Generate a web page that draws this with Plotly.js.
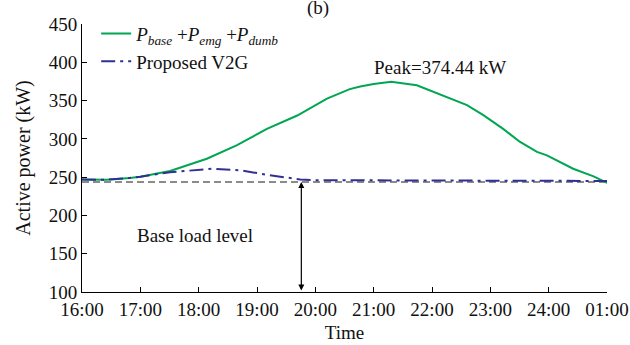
<!DOCTYPE html>
<html>
<head>
<meta charset="utf-8">
<script src="https://cdn.plot.ly/plotly-3.0.1.min.js"></script>
<style>html,body{margin:0;padding:0;background:#fff;}#chart{width:630px;height:345px;}</style>
</head>
<body>
<div id="chart"></div>
<script>
// Time in hours (25 = 01:00 next day)
const hoursUncontrolled = [16, 16.42, 16.82, 17.0, 17.51, 18.14, 18.65, 19.17, 19.69, 20.2, 20.59, 20.77, 21.0, 21.3, 21.74, 22.25, 22.6, 22.88, 23.22, 23.51, 23.8, 23.97, 24.14, 24.42, 24.77, 25];
const powerUncontrolled = [247, 246.5, 249, 250.5, 258, 274, 291.5, 313, 330.5, 352.5, 365, 368.5, 371.5, 374.44, 370, 354, 344, 331, 313, 296, 283, 278.5, 272, 261, 251, 242.5];
const hoursV2G = [16, 16.42, 16.82, 17.0, 17.51, 18.0, 18.25, 18.71, 19.22, 19.74, 20.08, 21, 22, 23, 24, 25];
const powerV2G = [247, 246.5, 249, 250.5, 256.5, 260, 261, 259, 252.5, 247, 245.8, 245.8, 245.8, 245.8, 245.8, 245];
const baseHours = [16, 25];
const baseLevel = [243.5, 243.5];
const tickHours = [16, 17, 18, 19, 20, 21, 22, 23, 24, 25];
const tickLabels = ['16:00', '17:00', '18:00', '19:00', '20:00', '21:00', '22:00', '23:00', '24:00', '01:00'];
const yTicks = [100, 150, 200, 250, 300, 350, 400, 450];
const peakLabel = 'Peak=374.44 kW';
const arrowHour = 19.76;

const FONT = 'Liberation Serif, Times New Roman, serif';

const traces = [
  {x: baseHours, y: baseLevel, mode: 'lines', showlegend: false, hoverinfo: 'skip',
   line: {color: '#666666', width: 1.5, dash: '7px,4px'}},
  {x: hoursUncontrolled, y: powerUncontrolled, mode: 'lines',
   name: '<i>P</i><sub><i>base</i></sub> +<i>P</i><sub><i>emg</i></sub> +<i>P</i><sub><i>dumb</i></sub>',
   line: {color: '#00a651', width: 2}},
  {x: hoursV2G, y: powerV2G, mode: 'lines', name: 'Proposed V2G',
   line: {color: '#2e3192', width: 2, dash: '14px,5px,3px,5px'}}
];

const layout = {
  width: 630, height: 345,
  margin: {l: 82, r: 23, t: 24, b: 53},
  paper_bgcolor: '#fff', plot_bgcolor: '#fff',
  font: {family: FONT, size: 19, color: '#111'},
  showlegend: true,
  legend: {x: 0.027, y: 1.035, xanchor: 'left', yanchor: 'top', bgcolor: 'rgba(0,0,0,0)',
           font: {family: FONT, size: 19}, tracegroupgap: 0},
  xaxis: {range: [16, 25], tickvals: tickHours, ticktext: tickLabels,
          showline: true, linecolor: '#000', linewidth: 1, ticks: 'inside', ticklen: 5,
          tickcolor: '#000', showgrid: false, zeroline: false,
          tickfont: {family: FONT, size: 19},
          title: {text: 'Time', font: {family: FONT, size: 19}, standoff: 6}},
  yaxis: {range: [100, 450], tickvals: yTicks,
          showline: true, linecolor: '#000', linewidth: 1, ticks: 'inside', ticklen: 5,
          tickcolor: '#000', showgrid: false, zeroline: false,
          tickfont: {family: FONT, size: 19},
          title: {text: 'Active power (kW)', font: {family: FONT, size: 20}, standoff: 12}},
  annotations: [
    {x: 22.14, y: 393, xref: 'x', yref: 'y', text: peakLabel, showarrow: false,
     font: {family: FONT, size: 19}},
    {x: 17.94, y: 174, xref: 'x', yref: 'y', text: 'Base load level', showarrow: false,
     font: {family: FONT, size: 19}},
    {x: arrowHour, y: 243.5, ax: arrowHour, ay: 100, xref: 'x', yref: 'y', axref: 'x', ayref: 'y',
     text: '', showarrow: true, arrowhead: 2, startarrowhead: 2, arrowside: 'end+start',
     arrowsize: 1, arrowwidth: 1.2, arrowcolor: '#000', standoff: 0, startstandoff: 0},
    {x: 0.45, y: 1, xref: 'paper', yref: 'paper', yshift: 29, text: '(b)', showarrow: false,
     font: {family: FONT, size: 19}}
  ]
};

Plotly.newPlot('chart', traces, layout, {displayModeBar: false, staticPlot: true});
</script>
</body>
</html>
